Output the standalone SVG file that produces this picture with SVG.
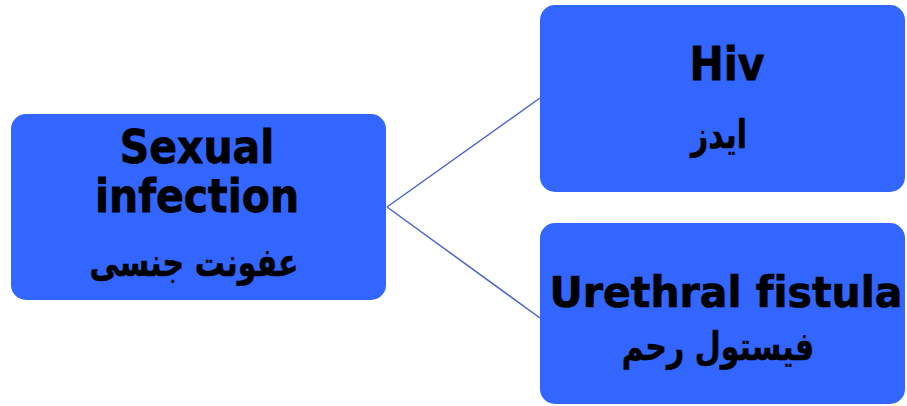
<svg xmlns="http://www.w3.org/2000/svg" width="907" height="406" viewBox="0 0 907 406">
  <style>
    .box { fill: #3366ff; }
    .en { font-family: "DejaVu Sans", Verdana, sans-serif; font-weight: bold; fill: #000; stroke: #000; stroke-width: 0.7; text-anchor: middle; font-variant-ligatures: none; }
    .fa { font-family: "DejaVu Sans", sans-serif; font-weight: bold; fill: #000; stroke: #000; stroke-width: 0.4; text-anchor: middle; font-size: 30px; }
    .link { stroke: #4a66cc; stroke-width: 1.5; fill: none; }
  </style>
  <rect width="907" height="406" fill="#ffffff"/>
  <g id="connectors">
    <line class="link" x1="387" y1="207" x2="540" y2="98"/>
    <line class="link" x1="387" y1="207" x2="540" y2="318"/>
  </g>
  <g id="sexual-infection">
    <rect class="box" x="11" y="114" width="375" height="186" rx="15"/>
    <text class="en" font-size="41" transform="translate(197,163) scale(1,1.12)">Sexual</text>
    <text class="en" font-size="41" transform="translate(197,212) scale(1,1.12)">infection</text>
    <text class="fa" direction="rtl" transform="translate(194,276) scale(1,1.3)">عفونت جنسی</text>
  </g>
  <g id="hiv">
    <rect class="box" x="540" y="5" width="365" height="187" rx="15"/>
    <text class="en" font-size="41" transform="translate(727,80) scale(1,1.12)">Hiv</text>
    <text class="fa" direction="rtl" transform="translate(719,148) scale(1,1.3)">ایدز</text>
  </g>
  <g id="urethral-fistula">
    <rect class="box" x="540" y="223" width="365" height="181" rx="15"/>
    <text class="en" font-size="41" transform="translate(726,307) scale(1,1.05)">Urethral fistula</text>
    <text class="fa" direction="rtl" transform="translate(718,360) scale(1,1.3)">فیستول رحم</text>
  </g>
</svg>
